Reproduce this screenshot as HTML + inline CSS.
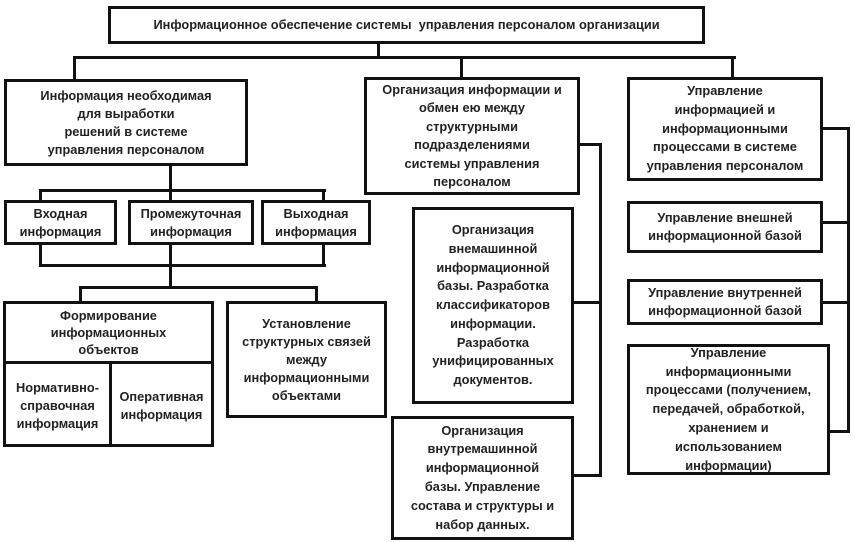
<!DOCTYPE html>
<html><head><meta charset="utf-8"><style>
html,body{margin:0;padding:0;background:#fff;}
body{width:855px;height:542px;position:relative;overflow:hidden;font-family:"Liberation Sans","DejaVu Sans",sans-serif;font-weight:bold;color:#222;}
.b{position:absolute;box-sizing:border-box;border:3px solid #111;display:flex;align-items:center;justify-content:center;text-align:center;font-size:12.8px;line-height:18px;background:#fff;white-space:nowrap;}
.h{position:absolute;height:3px;background:#111;}
.v{position:absolute;width:3px;background:#111;}
</style></head><body>
<!-- connectors -->
<div class="v" style="left:377px;top:42px;height:16px"></div>
<div class="h" style="left:73px;top:56px;width:663px"></div>
<div class="v" style="left:73px;top:56px;height:24px"></div>
<div class="v" style="left:460px;top:56px;height:24px"></div>
<div class="v" style="left:731px;top:56px;height:24px"></div>

<div class="v" style="left:169px;top:164px;height:122px"></div>
<div class="h" style="left:39px;top:189px;width:287px"></div>
<div class="v" style="left:39px;top:189px;height:13px"></div>
<div class="v" style="left:322px;top:189px;height:13px"></div>
<div class="h" style="left:39px;top:264px;width:287px"></div>
<div class="v" style="left:39px;top:243px;height:23px"></div>
<div class="v" style="left:322px;top:243px;height:23px"></div>
<div class="h" style="left:79px;top:286px;width:239px"></div>
<div class="v" style="left:79px;top:286px;height:17px"></div>
<div class="v" style="left:315px;top:286px;height:17px"></div>

<div class="h" style="left:578px;top:143px;width:24px"></div>
<div class="v" style="left:599px;top:143px;height:334px"></div>
<div class="h" style="left:572px;top:301px;width:30px"></div>
<div class="h" style="left:572px;top:474px;width:30px"></div>

<div class="h" style="left:821px;top:127px;width:29px"></div>
<div class="v" style="left:847px;top:127px;height:306px"></div>
<div class="h" style="left:821px;top:221px;width:29px"></div>
<div class="h" style="left:821px;top:301px;width:29px"></div>
<div class="h" style="left:828px;top:430px;width:22px"></div>

<!-- boxes -->
<div class="b" style="left:108px;top:6px;width:597px;height:38px">Информационное обеспечение системы&nbsp; управления персоналом организации</div>
<div class="b" style="left:4px;top:79px;width:244px;height:87px">Информация необходимая<br>для выработки<br>решений в системе<br>управления персоналом</div>
<div class="b" style="left:4px;top:200px;width:113px;height:45px">Входная<br>информация</div>
<div class="b" style="left:128px;top:200px;width:126px;height:45px">Промежуточная<br>информация</div>
<div class="b" style="left:261px;top:200px;width:110px;height:45px">Выходная<br>информация</div>
<div class="b" style="left:3px;top:301px;width:211px;height:146px;display:block">
  <div style="height:57px;border-bottom:3px solid #111;display:flex;align-items:center;justify-content:center;line-height:17px">Формирование<br>информационных<br>объектов</div>
  <div style="display:flex;height:83px">
    <div style="width:103px;border-right:3px solid #111;display:flex;align-items:center;justify-content:center">Нормативно-<br>справочная<br>информация</div>
    <div style="flex:1;display:flex;align-items:center;justify-content:center">Оперативная<br>информация</div>
  </div>
</div>
<div class="b" style="left:226px;top:301px;width:161px;height:117px">Установление<br>структурных связей<br>между<br>информационными<br>объектами</div>
<div class="b" style="left:364px;top:77px;width:216px;height:118px;line-height:18.5px">Организация информации и<br>обмен ею между<br>структурными<br>подразделениями<br>системы управления<br>персоналом</div>
<div class="b" style="left:412px;top:207px;width:162px;height:197px;line-height:18.8px">Организация<br>внемашинной<br>информационной<br>базы. Разработка<br>классификаторов<br>информации.<br>Разработка<br>унифицированных<br>документов.</div>
<div class="b" style="left:391px;top:416px;width:183px;height:124px;line-height:18.8px">Организация<br>внутремашинной<br>информационной<br>базы. Управление<br>состава и структуры и<br>набор данных.</div>
<div class="b" style="left:627px;top:77px;width:196px;height:104px;line-height:18.8px">Управление<br>информацией и<br>информационными<br>процессами в системе<br>управления персоналом</div>
<div class="b" style="left:627px;top:201px;width:196px;height:52px">Управление внешней<br>информационной базой</div>
<div class="b" style="left:627px;top:279px;width:196px;height:46px">Управление внутренней<br>информационной базой</div>
<div class="b" style="left:627px;top:344px;width:203px;height:131px;line-height:18.8px">Управление<br>информационными<br>процессами (получением,<br>передачей, обработкой,<br>хранением и<br>использованием<br>информации)</div>
</body></html>
